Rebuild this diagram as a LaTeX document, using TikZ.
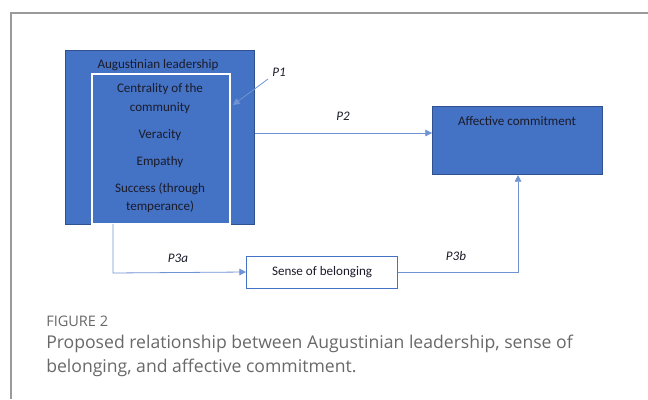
\documentclass[tikz,border=0pt]{standalone}
\usepackage{fontspec}
\setmainfont{Carlito}
\newfontfamily\capfont{Open Sans}
\usetikzlibrary{arrows.meta}
\definecolor{boxblue}{HTML}{4472C4}
\definecolor{boxedge}{HTML}{2F528F}
\definecolor{linkblue}{HTML}{6F93D3}
\definecolor{inktext}{HTML}{1B1B2A}
\definecolor{framegray}{HTML}{9A9A9A}
\definecolor{capgray}{HTML}{686868}
\begin{document}
\begin{tikzpicture}[x=0.75pt,y=-0.75pt,
  bluebox/.style={draw=boxedge,fill=boxblue,line width=0.8pt},
  link/.style={draw=linkblue,line width=0.6pt,-{Triangle[length=5pt,width=5pt]}},
  boxtext/.style={text=inktext,font=\fontsize{9.8}{11}\selectfont,inner sep=0pt},
  plabel/.style={text=inktext,font=\fontsize{9.8}{11}\selectfont\itshape,inner sep=0pt}]
\useasboundingbox (0,0) rectangle (648,399);
% outer frame
\draw[framegray,line width=0.8pt] (648,13) -- (11,13) -- (11,399);
% Augustinian leadership block
\node[bluebox,minimum width=189*0.75pt,minimum height=174*0.75pt,anchor=north west,inner sep=0pt] (lead) at (65,50) {};
\node[draw=white,line width=1.4pt,minimum width=138*0.75pt,minimum height=150*0.75pt,anchor=north west,inner sep=0pt] (dims) at (91,73) {};
\node[boxtext] (leadtitle) at (158,65) {Augustinian leadership};
\node[boxtext] (cent1) at (160,89) {Centrality of the};
\node[boxtext] (cent2) at (160,108) {community};
\node[boxtext] (ver) at (160,135) {Veracity};
\node[boxtext] (emp) at (160,162) {Empathy};
\node[boxtext] (succ1) at (160,189) {Success (through};
\node[boxtext] (succ2) at (160,207) {temperance)};
% outcome
\node[bluebox,minimum width=170*0.75pt,minimum height=68*0.75pt,anchor=north west,inner sep=0pt] (aff) at (432,106) {};
\node[boxtext] (afftext) at (517,121) {Affective commitment};
% mediator
\node[draw=boxblue,fill=white,line width=0.8pt,minimum width=151*0.75pt,minimum height=32*0.75pt,anchor=north west,inner sep=0pt] (sob) at (246,256) {};
\node[boxtext] (sobtext) at (sob.center) {Sense of belonging};
% propositions
\node[plabel] (p1) at (279,72) {P1};
\coordinate (p1tail) at (268,79);
\draw[link] (p1tail) -- (233,105);
\node[plabel] (p2) at (343,116) {P2};
\draw[link] (lead.east |- 0,133) -- (aff.west |- 0,133);
\node[plabel] (p3a) at (178,258) {P3a};
\draw[link] (113,224) -- (113,273) -- (sob.west |- 0,272);
\node[plabel] (p3b) at (456,256) {P3b};
\draw[link] (sob.east |- 0,272) -- (518,272) -- (aff.south -| 518,0);
% caption
\node[anchor=west,inner sep=0pt,text=capgray,font=\capfont\fontsize{10.9}{12}\selectfont] (fig) at (46,321) {FIGURE 2};
\node[anchor=west,inner sep=0pt,text=capgray,font=\capfont\fontsize{13.2}{16}\selectfont] (cap1) at (46,344) {Proposed relationship between Augustinian leadership, sense of};
\node[anchor=west,inner sep=0pt,text=capgray,font=\capfont\fontsize{13.2}{16}\selectfont] (cap2) at (46,368) {belonging, and affective commitment.};
\end{tikzpicture}
\end{document}
